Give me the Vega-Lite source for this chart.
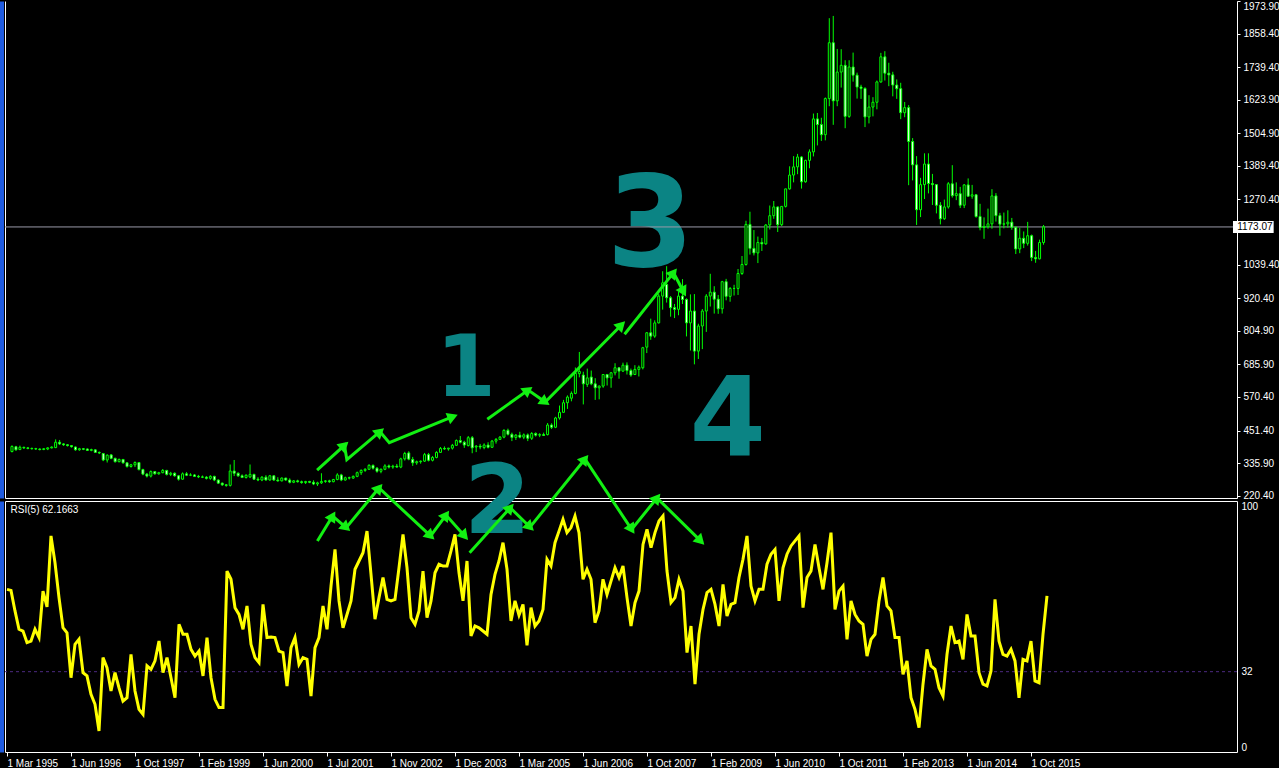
{
  "$schema": "https://vega.github.io/schema/vega-lite/v6.json",
  "background": "#000000",
  "padding": 0,
  "bounds": "flush",
  "spacing": 3,
  "config": {
    "view": {"stroke": null},
    "axis": {"grid": false, "domainColor": "#ffffff", "tickColor": "#ffffff", "labelColor": "#ffffff", "labelFont": "Liberation Sans", "labelFontSize": 10, "title": null}
  },
  "datasets": {
    "c": [
      {"i":0,"o":377,"h":399,"l":374,"c":395,"r":64.8},{"i":1,"o":394,"h":397,"l":380,"c":383,"r":64.4},{"i":2,"o":384,"h":398,"l":382,"c":392,"r":56.2},{"i":3,"o":392,"h":394,"l":386,"c":390,"r":48.9},{"i":4,"o":390,"h":392,"l":385,"c":388,"r":48.2},
      {"i":5,"o":388,"h":391,"l":384,"c":387,"r":43.6},{"i":6,"o":387,"h":390,"l":383,"c":386,"r":44.2},{"i":7,"o":386,"h":388,"l":381,"c":384,"r":48.9},{"i":8,"o":384,"h":389,"l":382,"c":387,"r":45.6},{"i":9,"o":386,"h":392,"l":382,"c":390,"r":64.1},
      {"i":10,"o":390,"h":395,"l":388,"c":393,"r":57.8},{"i":11,"o":391,"h":420,"l":389,"c":410,"r":86.1},{"i":12,"o":410,"h":418,"l":400,"c":404,"r":75.4},{"i":13,"o":404,"h":406,"l":397,"c":401,"r":61.5},{"i":14,"o":401,"h":403,"l":395,"c":398,"r":49.5},
      {"i":15,"o":398,"h":400,"l":391,"c":394,"r":47.5},{"i":16,"o":393,"h":395,"l":380,"c":383,"r":29.6},{"i":17,"o":383,"h":390,"l":380,"c":387,"r":42.9},{"i":18,"o":387,"h":389,"l":382,"c":385,"r":44.9},{"i":19,"o":386,"h":388,"l":379,"c":381,"r":31.6},
      {"i":20,"o":381,"h":387,"l":378,"c":384,"r":30.3},{"i":21,"o":383,"h":385,"l":372,"c":374,"r":23},{"i":22,"o":374,"h":377,"l":368,"c":372,"r":19},{"i":23,"o":370,"h":372,"l":343,"c":347,"r":8.4},{"i":24,"o":347,"h":367,"l":338,"c":364,"r":37.6},
      {"i":25,"o":365,"h":368,"l":350,"c":353,"r":33.6},{"i":26,"o":353,"h":355,"l":338,"c":341,"r":24.3},{"i":27,"o":341,"h":352,"l":339,"c":349,"r":31.6},{"i":28,"o":349,"h":350,"l":334,"c":337,"r":25.6},{"i":29,"o":337,"h":339,"l":320,"c":324,"r":20.3},
      {"i":30,"o":324,"h":333,"l":320,"c":330,"r":21.6},{"i":31,"o":330,"h":342,"l":322,"c":338,"r":38.9},{"i":32,"o":338,"h":340,"l":310,"c":313,"r":24.3},{"i":33,"o":313,"h":316,"l":293,"c":297,"r":17},{"i":34,"o":297,"h":301,"l":285,"c":290,"r":15},
      {"i":35,"o":290,"h":310,"l":285,"c":306,"r":34.3},{"i":36,"o":306,"h":308,"l":295,"c":298,"r":32.9},{"i":37,"o":298,"h":305,"l":295,"c":302,"r":36.3},{"i":38,"o":302,"h":315,"l":300,"c":310,"r":44.2},{"i":39,"o":310,"h":312,"l":292,"c":296,"r":31.6},
      {"i":40,"o":296,"h":305,"l":290,"c":300,"r":37.6},{"i":41,"o":300,"h":303,"l":288,"c":291,"r":29.6},{"i":42,"o":291,"h":294,"l":274,"c":279,"r":21.6},{"i":43,"o":279,"h":303,"l":277,"c":298,"r":50.9},{"i":44,"o":298,"h":304,"l":290,"c":293,"r":46.9},
      {"i":45,"o":293,"h":300,"l":290,"c":294,"r":46.9},{"i":46,"o":294,"h":297,"l":287,"c":289,"r":40.9},{"i":47,"o":289,"h":294,"l":283,"c":287,"r":38.2},{"i":48,"o":287,"h":292,"l":283,"c":286,"r":40.2},{"i":49,"o":286,"h":290,"l":278,"c":282,"r":30.3},
      {"i":50,"o":282,"h":293,"l":277,"c":289,"r":45.6},{"i":51,"o":289,"h":291,"l":272,"c":276,"r":29.6},{"i":52,"o":276,"h":278,"l":262,"c":265,"r":21},{"i":53,"o":265,"h":267,"l":255,"c":259,"r":17.7},{"i":54,"o":259,"h":262,"l":252,"c":257,"r":17.7},
      {"i":55,"o":257,"h":331,"l":253,"c":308,"r":72.1},{"i":56,"o":308,"h":347,"l":290,"c":300,"r":68.8},{"i":57,"o":300,"h":303,"l":287,"c":291,"r":57.5},{"i":58,"o":291,"h":296,"l":283,"c":285,"r":54.8},{"i":59,"o":285,"h":296,"l":281,"c":293,"r":48.9},
      {"i":60,"o":287,"h":331,"l":283,"c":296,"r":58.2},{"i":61,"o":296,"h":298,"l":276,"c":279,"r":42.9},{"i":62,"o":279,"h":286,"l":272,"c":276,"r":37.6},{"i":63,"o":276,"h":290,"l":272,"c":286,"r":35.6},{"i":64,"o":286,"h":293,"l":274,"c":276,"r":58.8},
      {"i":65,"o":276,"h":294,"l":274,"c":291,"r":45.6},{"i":66,"o":291,"h":292,"l":273,"c":276,"r":45.8},{"i":67,"o":276,"h":286,"l":270,"c":273,"r":45.6},{"i":68,"o":273,"h":285,"l":271,"c":283,"r":40.2},{"i":69,"o":283,"h":284,"l":273,"c":276,"r":39.6},
      {"i":70,"o":276,"h":282,"l":264,"c":268,"r":26.3},{"i":71,"o":268,"h":276,"l":265,"c":273,"r":41.6},{"i":72,"o":273,"h":277,"l":267,"c":270,"r":45.6},{"i":73,"o":270,"h":274,"l":263,"c":267,"r":34.9},{"i":74,"o":267,"h":273,"l":262,"c":271,"r":37.6},
      {"i":75,"o":271,"h":273,"l":265,"c":268,"r":36.9},{"i":76,"o":268,"h":275,"l":258,"c":262,"r":22.3},{"i":77,"o":262,"h":270,"l":255,"c":266,"r":41.6},{"i":78,"o":266,"h":300,"l":262,"c":271,"r":45.6},{"i":79,"o":271,"h":276,"l":266,"c":273,"r":58.2},
      {"i":80,"o":273,"h":277,"l":266,"c":270,"r":48.9},{"i":81,"o":270,"h":280,"l":268,"c":278,"r":66.1},{"i":82,"o":278,"h":300,"l":275,"c":294,"r":80.7},{"i":83,"o":294,"h":298,"l":272,"c":276,"r":60.2},{"i":84,"o":276,"h":288,"l":274,"c":284,"r":49.5},
      {"i":85,"o":284,"h":288,"l":278,"c":283,"r":54.8},{"i":86,"o":283,"h":292,"l":280,"c":289,"r":60.2},{"i":87,"o":289,"h":306,"l":286,"c":302,"r":72.8},{"i":88,"o":302,"h":314,"l":294,"c":310,"r":76.1},{"i":89,"o":310,"h":318,"l":305,"c":314,"r":79.4},
      {"i":90,"o":314,"h":332,"l":312,"c":328,"r":88},{"i":91,"o":328,"h":331,"l":313,"c":318,"r":70.8},{"i":92,"o":318,"h":322,"l":302,"c":307,"r":52.9},{"i":93,"o":307,"h":317,"l":300,"c":314,"r":61.5},{"i":94,"o":314,"h":332,"l":311,"c":326,"r":69.5},
      {"i":95,"o":326,"h":331,"l":317,"c":322,"r":60.8},{"i":96,"o":322,"h":330,"l":316,"c":325,"r":60.2},{"i":97,"o":325,"h":333,"l":320,"c":322,"r":60.8},{"i":98,"o":322,"h":355,"l":318,"c":351,"r":73.4},{"i":99,"o":351,"h":376,"l":345,"c":370,"r":86.7},
      {"i":100,"o":372,"h":378,"l":346,"c":350,"r":73.4},{"i":101,"o":349,"h":358,"l":326,"c":337,"r":53.5},{"i":102,"o":337,"h":345,"l":330,"c":341,"r":50.9},{"i":103,"o":341,"h":345,"l":334,"c":343,"r":56.2},{"i":104,"o":343,"h":372,"l":340,"c":366,"r":72.1},
      {"i":105,"o":366,"h":372,"l":342,"c":346,"r":53.5},{"i":106,"o":346,"h":361,"l":342,"c":356,"r":60.2},{"i":107,"o":356,"h":378,"l":353,"c":374,"r":71.4},{"i":108,"o":374,"h":393,"l":372,"c":388,"r":74.8},{"i":109,"o":388,"h":395,"l":383,"c":386,"r":74.1},
      {"i":110,"o":386,"h":390,"l":380,"c":389,"r":74.1},{"i":111,"o":389,"h":404,"l":384,"c":399,"r":80.1},{"i":112,"o":399,"h":420,"l":398,"c":416,"r":86.7},{"i":113,"o":416,"h":432,"l":406,"c":410,"r":71.4},{"i":114,"o":410,"h":415,"l":390,"c":400,"r":60.2},
      {"i":115,"o":398,"h":432,"l":395,"c":426,"r":76.1},{"i":116,"o":426,"h":432,"l":371,"c":390,"r":46.2},{"i":117,"o":393,"h":400,"l":375,"c":396,"r":50.2},{"i":118,"o":396,"h":404,"l":385,"c":393,"r":49.5},{"i":119,"o":391,"h":406,"l":385,"c":400,"r":48.2},
      {"i":120,"o":400,"h":410,"l":388,"c":392,"r":46.9},{"i":121,"o":392,"h":418,"l":390,"c":414,"r":62.8},{"i":122,"o":414,"h":425,"l":405,"c":420,"r":70.8},{"i":123,"o":420,"h":432,"l":418,"c":428,"r":76.1},{"i":124,"o":428,"h":456,"l":424,"c":452,"r":83.4},
      {"i":125,"o":452,"h":458,"l":434,"c":438,"r":72.8},{"i":126,"o":438,"h":444,"l":414,"c":427,"r":52.2},{"i":127,"o":427,"h":439,"l":418,"c":435,"r":60.2},{"i":128,"o":435,"h":447,"l":424,"c":428,"r":54.5},{"i":129,"o":428,"h":441,"l":421,"c":436,"r":58.8},
      {"i":130,"o":436,"h":441,"l":414,"c":424,"r":42.5},{"i":131,"o":424,"h":446,"l":418,"c":441,"r":57.5},{"i":132,"o":441,"h":445,"l":430,"c":435,"r":50.2},{"i":133,"o":435,"h":442,"l":428,"c":437,"r":52.2},{"i":134,"o":437,"h":444,"l":432,"c":434,"r":56.8},
      {"i":135,"o":437,"h":478,"l":434,"c":471,"r":76.8},{"i":136,"o":471,"h":477,"l":457,"c":463,"r":74.1},{"i":137,"o":463,"h":500,"l":460,"c":496,"r":83.4},{"i":138,"o":496,"h":540,"l":490,"c":516,"r":88},{"i":139,"o":516,"h":560,"l":515,"c":550,"r":92.7},
      {"i":140,"o":550,"h":576,"l":528,"c":570,"r":87.4},{"i":141,"o":566,"h":590,"l":555,"c":583,"r":89.4},{"i":142,"o":583,"h":675,"l":580,"c":654,"r":94},{"i":143,"o":653,"h":730,"l":640,"c":661,"r":87.4},{"i":144,"o":648,"h":660,"l":544,"c":617,"r":68.8},
      {"i":145,"o":615,"h":671,"l":606,"c":638,"r":72.8},{"i":146,"o":641,"h":664,"l":612,"c":617,"r":68.8},{"i":147,"o":617,"h":637,"l":560,"c":603,"r":51.5},{"i":148,"o":603,"h":611,"l":562,"c":609,"r":56.2},{"i":149,"o":609,"h":651,"l":603,"c":650,"r":68.8},
      {"i":150,"o":650,"h":652,"l":611,"c":638,"r":62.8},{"i":151,"o":638,"h":659,"l":603,"c":656,"r":68.1},{"i":152,"o":656,"h":690,"l":647,"c":674,"r":73.4},{"i":153,"o":674,"h":676,"l":635,"c":662,"r":69.5},{"i":154,"o":662,"h":692,"l":660,"c":683,"r":74.1},
      {"i":155,"o":683,"h":693,"l":650,"c":664,"r":61.5},{"i":156,"o":664,"h":671,"l":642,"c":648,"r":50.2},{"i":157,"o":650,"h":683,"l":648,"c":668,"r":59.5},{"i":158,"o":668,"h":682,"l":643,"c":676,"r":64.1},{"i":159,"o":674,"h":748,"l":668,"c":745,"r":82.7},
      {"i":160,"o":747,"h":800,"l":726,"c":798,"r":88.7},{"i":161,"o":798,"h":848,"l":773,"c":786,"r":81.4},{"i":162,"o":786,"h":842,"l":780,"c":833,"r":87.4},{"i":163,"o":833,"h":935,"l":831,"c":928,"r":92},{"i":164,"o":928,"h":1016,"l":880,"c":975,"r":94},
      {"i":165,"o":969,"h":1034,"l":905,"c":922,"r":72.1},{"i":166,"o":922,"h":928,"l":855,"c":887,"r":59.5},{"i":167,"o":887,"h":900,"l":850,"c":881,"r":61.5},{"i":168,"o":881,"h":944,"l":860,"c":928,"r":68.8},{"i":169,"o":928,"h":988,"l":900,"c":916,"r":64.1},
      {"i":170,"o":916,"h":920,"l":785,"c":833,"r":39.6},{"i":171,"o":833,"h":934,"l":735,"c":875,"r":50.2},{"i":172,"o":875,"h":935,"l":686,"c":733,"r":27},{"i":173,"o":733,"h":830,"l":705,"c":822,"r":46.9},{"i":174,"o":822,"h":882,"l":740,"c":875,"r":56.8},
      {"i":175,"o":875,"h":935,"l":801,"c":928,"r":63.5},{"i":176,"o":928,"h":1007,"l":891,"c":942,"r":64.8},{"i":177,"o":942,"h":963,"l":866,"c":917,"r":58.8},{"i":178,"o":917,"h":932,"l":865,"c":883,"r":50.2},{"i":179,"o":883,"h":982,"l":866,"c":979,"r":66.8},
      {"i":180,"o":979,"h":989,"l":913,"c":927,"r":54.2},{"i":181,"o":927,"h":960,"l":908,"c":955,"r":58.8},{"i":182,"o":955,"h":968,"l":930,"c":955,"r":59.5},{"i":183,"o":955,"h":1024,"l":932,"c":1008,"r":69.5},{"i":184,"o":1008,"h":1070,"l":1003,"c":1040,"r":76.8},
      {"i":185,"o":1040,"h":1195,"l":1036,"c":1182,"r":86.1},{"i":186,"o":1182,"h":1227,"l":1075,"c":1097,"r":66.1},{"i":187,"o":1097,"h":1162,"l":1072,"c":1081,"r":60.2},{"i":188,"o":1081,"h":1139,"l":1045,"c":1118,"r":64.8},{"i":189,"o":1118,"h":1134,"l":1088,"c":1113,"r":64.8},
      {"i":190,"o":1113,"h":1183,"l":1110,"c":1180,"r":74.8},{"i":191,"o":1180,"h":1249,"l":1164,"c":1213,"r":78.8},{"i":192,"o":1213,"h":1265,"l":1202,"c":1244,"r":80.7},{"i":193,"o":1244,"h":1245,"l":1155,"c":1181,"r":60.2},{"i":194,"o":1181,"h":1246,"l":1176,"c":1246,"r":73.4},
      {"i":195,"o":1246,"h":1308,"l":1242,"c":1308,"r":78.8},{"i":196,"o":1308,"h":1388,"l":1305,"c":1357,"r":82.1},{"i":197,"o":1357,"h":1424,"l":1331,"c":1386,"r":84.1},{"i":198,"o":1386,"h":1432,"l":1360,"c":1421,"r":86.1},{"i":199,"o":1421,"h":1424,"l":1309,"c":1333,"r":57.5},
      {"i":200,"o":1333,"h":1411,"l":1330,"c":1409,"r":69.5},{"i":201,"o":1409,"h":1448,"l":1381,"c":1439,"r":72.1},{"i":202,"o":1439,"h":1575,"l":1423,"c":1556,"r":82.7},{"i":203,"o":1556,"h":1577,"l":1462,"c":1536,"r":73.4},{"i":204,"o":1536,"h":1560,"l":1478,"c":1500,"r":64.8},
      {"i":205,"o":1500,"h":1632,"l":1480,"c":1628,"r":75.4},{"i":206,"o":1628,"h":1913,"l":1601,"c":1826,"r":87.4},{"i":207,"o":1826,"h":1921,"l":1535,"c":1620,"r":56.8},{"i":208,"o":1620,"h":1804,"l":1601,"c":1722,"r":64.1},{"i":209,"o":1722,"h":1803,"l":1667,"c":1746,"r":66.1},
      {"i":210,"o":1746,"h":1764,"l":1523,"c":1565,"r":44.9},{"i":211,"o":1565,"h":1764,"l":1560,"c":1740,"r":60.2},{"i":212,"o":1740,"h":1791,"l":1688,"c":1711,"r":54.8},{"i":213,"o":1711,"h":1720,"l":1628,"c":1669,"r":52.2},{"i":214,"o":1669,"h":1677,"l":1627,"c":1664,"r":50.9},
      {"i":215,"o":1664,"h":1668,"l":1527,"c":1563,"r":38.2},{"i":216,"o":1563,"h":1640,"l":1540,"c":1598,"r":44.9},{"i":217,"o":1598,"h":1633,"l":1565,"c":1615,"r":46.9},{"i":218,"o":1615,"h":1692,"l":1590,"c":1687,"r":60.2},{"i":219,"o":1687,"h":1790,"l":1684,"c":1776,"r":69.5},
      {"i":220,"o":1776,"h":1796,"l":1692,"c":1718,"r":58.2},{"i":221,"o":1718,"h":1755,"l":1672,"c":1712,"r":56.2},{"i":222,"o":1712,"h":1723,"l":1636,"c":1676,"r":45.6},{"i":223,"o":1676,"h":1696,"l":1627,"c":1663,"r":45.6},{"i":224,"o":1663,"h":1684,"l":1555,"c":1578,"r":30.9},
      {"i":225,"o":1578,"h":1616,"l":1562,"c":1596,"r":36.3},{"i":226,"o":1596,"h":1605,"l":1321,"c":1476,"r":21.6},{"i":227,"o":1476,"h":1488,"l":1338,"c":1393,"r":17},{"i":228,"o":1393,"h":1424,"l":1180,"c":1234,"r":9.7},{"i":229,"o":1234,"h":1347,"l":1208,"c":1323,"r":27},
      {"i":230,"o":1323,"h":1434,"l":1272,"c":1396,"r":40.9},{"i":231,"o":1396,"h":1434,"l":1292,"c":1327,"r":34.3},{"i":232,"o":1327,"h":1361,"l":1251,"c":1323,"r":32.9},{"i":233,"o":1323,"h":1324,"l":1221,"c":1250,"r":25.6},{"i":234,"o":1250,"h":1261,"l":1182,"c":1202,"r":22.3},
      {"i":235,"o":1202,"h":1270,"l":1198,"c":1244,"r":38.9},{"i":236,"o":1244,"h":1332,"l":1238,"c":1326,"r":50.2},{"i":237,"o":1326,"h":1392,"l":1277,"c":1284,"r":43.6},{"i":238,"o":1284,"h":1331,"l":1268,"c":1291,"r":44.2},{"i":239,"o":1291,"h":1315,"l":1240,"c":1250,"r":36.9},
      {"i":240,"o":1250,"h":1325,"l":1240,"c":1322,"r":54.8},{"i":241,"o":1322,"h":1345,"l":1280,"c":1282,"r":46.2},{"i":242,"o":1282,"h":1322,"l":1273,"c":1287,"r":46.2},{"i":243,"o":1287,"h":1290,"l":1206,"c":1210,"r":31.6},{"i":244,"o":1210,"h":1255,"l":1161,"c":1171,"r":27},
      {"i":245,"o":1171,"h":1207,"l":1131,"c":1175,"r":26.3},{"i":246,"o":1175,"h":1238,"l":1167,"c":1184,"r":32.3},{"i":247,"o":1184,"h":1307,"l":1167,"c":1283,"r":60.8},{"i":248,"o":1283,"h":1293,"l":1192,"c":1213,"r":44.2},{"i":249,"o":1213,"h":1223,"l":1142,"c":1183,"r":38.9},
      {"i":250,"o":1183,"h":1224,"l":1168,"c":1184,"r":38.2},{"i":251,"o":1184,"h":1232,"l":1170,"c":1190,"r":40.9},{"i":252,"o":1190,"h":1205,"l":1163,"c":1172,"r":36.3},{"i":253,"o":1172,"h":1174,"l":1077,"c":1095,"r":21.6},{"i":254,"o":1095,"h":1170,"l":1080,"c":1133,"r":36.9},
      {"i":255,"o":1133,"h":1157,"l":1098,"c":1115,"r":36.3},{"i":256,"o":1115,"h":1191,"l":1107,"c":1142,"r":44.2},{"i":257,"o":1142,"h":1146,"l":1052,"c":1065,"r":28.3},{"i":258,"o":1065,"h":1088,"l":1046,"c":1060,"r":27.6},{"i":259,"o":1060,"h":1128,"l":1058,"c":1118,"r":46.9},
      {"i":260,"o":1118,"h":1180,"l":1110,"c":1173.07,"r":62.2}
    ],
    "a1": [
      {"g":1,"k":1,"i":76.9,"p":311.5},{"g":1,"k":2,"i":83.8,"p":399.1},{"g":1,"k":3,"i":84.4,"p":348.0},{"g":1,"k":4,"i":92.75,"p":447.3},{"g":1,"k":5,"i":95.1,"p":408.3},{"g":1,"k":6,"i":111.1,"p":500.5},
      {"g":2,"k":1,"i":119.8,"p":491.2},{"g":2,"k":2,"i":130.1,"p":595.1},{"g":2,"k":3,"i":134.4,"p":552.5},{"g":2,"k":4,"i":153.6,"p":825.5},
      {"g":3,"k":1,"i":154.4,"p":792.5},{"g":3,"k":2,"i":166.75,"p":1010.9},{"g":3,"k":3,"i":169.25,"p":943.5}
    ],
    "h1": [
      {"i":83.8,"p":399.1,"a":48},{"i":92.75,"p":447.3,"a":50},{"i":111.1,"p":500.5,"a":68},{"i":130.1,"p":595.1,"a":54},{"i":134.4,"p":552.5,"a":125},{"i":153.6,"p":825.5,"a":45},{"i":166.75,"p":1010.9,"a":39},{"i":169.25,"p":943.5,"a":152}
    ],
    "a2": [
      {"g":4,"k":1,"i":77.6,"r":84.1},{"g":4,"k":2,"i":81.4,"r":94.0},{"g":4,"k":3,"i":84.8,"r":89.4},{"g":4,"k":4,"i":93.0,"r":105.2},{"g":4,"k":5,"i":105.9,"r":86.1},{"g":4,"k":6,"i":109.75,"r":94.4},{"g":4,"k":7,"i":114.4,"r":86.1},
      {"g":5,"k":1,"i":115.65,"r":79.4},{"g":5,"k":2,"i":125.8,"r":97.3},{"g":5,"k":3,"i":130.75,"r":89.6},{"g":5,"k":4,"i":144.5,"r":116.7},{"g":5,"k":5,"i":156.15,"r":88.7},{"g":5,"k":6,"i":162.5,"r":101.2},{"g":5,"k":7,"i":173.4,"r":84.1}
    ],
    "h2": [
      {"i":81.4,"r":94.0,"a":31},{"i":84.8,"r":89.4,"a":131},{"i":93.0,"r":105.2,"a":40},{"i":105.9,"r":86.1,"a":133},{"i":109.75,"r":94.4,"a":36},{"i":114.4,"r":86.1,"a":139},
      {"i":125.8,"r":97.3,"a":42},{"i":130.75,"r":89.6,"a":134},{"i":144.5,"r":116.7,"a":39},{"i":156.15,"r":88.7,"a":147},{"i":162.5,"r":101.2,"a":39},{"i":173.4,"r":84.1,"a":135}
    ]
  },
  "vconcat": [
    {
      "width": 1232,
      "height": 497,
      "layer": [
        {
          "data": {"values": [{"t": "1", "i": 114.4, "p": 667.7}]},
          "mark": {"type": "text", "font": "DejaVu Sans", "fontWeight": "bold", "fontSize": 86, "color": "#0b8484", "align": "center", "baseline": "middle"},
          "encoding": {
            "x": {"field": "i", "type": "quantitative", "scale": {"domain": [-0.5, 307.5], "nice": false, "zero": false}, "axis": null},
            "y": {"field": "p", "type": "quantitative", "scale": {"domain": [212.3, 1973.9], "nice": false, "zero": false}, "axis": null},
            "text": {"field": "t"}
          }
        },
        {
          "data": {"values": [{"t": "3", "i": 160.9, "p": 1169.3}]},
          "mark": {"type": "text", "font": "DejaVu Sans", "fontWeight": "bold", "fontSize": 126, "color": "#0b8484", "align": "center", "baseline": "middle"},
          "encoding": {
            "x": {"field": "i", "type": "quantitative", "scale": {"domain": [-0.5, 307.5], "nice": false, "zero": false}, "axis": null},
            "y": {"field": "p", "type": "quantitative", "scale": {"domain": [212.3, 1973.9], "nice": false, "zero": false}, "axis": null},
            "text": {"field": "t"}
          }
        },
        {
          "data": {"values": [{"t": "4", "i": 180.4, "p": 478.1}]},
          "mark": {"type": "text", "font": "DejaVu Sans", "fontWeight": "bold", "fontSize": 110, "color": "#0b8484", "align": "center", "baseline": "middle"},
          "encoding": {
            "x": {"field": "i", "type": "quantitative", "scale": {"domain": [-0.5, 307.5], "nice": false, "zero": false}, "axis": null},
            "y": {"field": "p", "type": "quantitative", "scale": {"domain": [212.3, 1973.9], "nice": false, "zero": false}, "axis": null},
            "text": {"field": "t"}
          }
        },
        {
          "data": {"values": [{"p": 1173.07}]},
          "mark": {"type": "rule", "color": "#9a9aa8", "strokeWidth": 1},
          "encoding": {
            "y": {"field": "p", "type": "quantitative", "scale": {"domain": [212.3, 1973.9], "nice": false, "zero": false},
                  "axis": {"orient": "left", "offset": 4.5, "domainColor": "#1f5be0", "domainWidth": 6, "ticks": false, "labels": false, "title": null}}
          }
        },
        {
          "data": {"name": "c"},
          "mark": {"type": "rule", "color": "#00ff00", "strokeWidth": 1},
          "encoding": {
            "x": {"field": "i", "type": "quantitative", "scale": {"domain": [-0.5, 307.5], "nice": false, "zero": false},
                  "axis": {"orient": "bottom", "ticks": false, "labels": false, "title": null}},
            "y": {"field": "l", "type": "quantitative", "scale": {"domain": [212.3, 1973.9], "nice": false, "zero": false},
                  "axis": {"orient": "right", "values": [220.4, 335.9, 451.4, 570.4, 685.9, 804.9, 920.4, 1039.4, 1270.4, 1389.4, 1504.9, 1623.9, 1739.4, 1858.4, 1973.9],
                           "format": ".2f", "tickSize": 3, "labelPadding": 3, "labelFlush": true, "labelOverlap": false, "title": null}},
            "y2": {"field": "h"}
          }
        },
        {
          "data": {"name": "c"},
          "mark": {"type": "bar", "size": 2, "stroke": "#00ff00", "strokeWidth": 1},
          "encoding": {
            "x": {"field": "i", "type": "quantitative", "scale": {"domain": [-0.5, 307.5], "nice": false, "zero": false}, "axis": null},
            "y": {"field": "o", "type": "quantitative", "scale": {"domain": [212.3, 1973.9], "nice": false, "zero": false},
                  "axis": {"orient": "left", "ticks": false, "labels": false, "title": null}},
            "y2": {"field": "c"},
            "fill": {"condition": {"test": "datum.c < datum.o", "value": "#ffffff"}, "value": "#000000"}
          }
        },
        {
          "data": {"name": "a1"},
          "mark": {"type": "line", "color": "#12f012", "strokeWidth": 3},
          "encoding": {
            "x": {"field": "i", "type": "quantitative", "scale": {"domain": [-0.5, 307.5], "nice": false, "zero": false}, "axis": null},
            "y": {"field": "p", "type": "quantitative", "scale": {"domain": [212.3, 1973.9], "nice": false, "zero": false}, "axis": null},
            "detail": {"field": "g"},
            "order": {"field": "k"}
          }
        },
        {
          "data": {"name": "h1"},
          "mark": {"type": "point", "shape": "triangle-up", "filled": true, "size": 150, "color": "#12f012", "opacity": 1},
          "encoding": {
            "x": {"field": "i", "type": "quantitative", "scale": {"domain": [-0.5, 307.5], "nice": false, "zero": false}, "axis": null},
            "y": {"field": "p", "type": "quantitative", "scale": {"domain": [212.3, 1973.9], "nice": false, "zero": false}, "axis": null},
            "angle": {"field": "a", "type": "quantitative", "scale": null}
          }
        },
        {
          "data": {"values": [{"p": 1173.07}]},
          "mark": {"type": "rect", "color": "#ffffff", "yOffset": -6, "y2Offset": 6},
          "encoding": {
            "x": {"datum": 307.75, "type": "quantitative", "scale": {"domain": [-0.5, 307.5], "nice": false, "zero": false}, "axis": null},
            "x2": {"datum": 318},
            "y": {"field": "p", "type": "quantitative", "scale": {"domain": [212.3, 1973.9], "nice": false, "zero": false}, "axis": null},
            "y2": {"field": "p"}
          }
        },
        {
          "data": {"values": [{"p": 1173.07}]},
          "mark": {"type": "text", "align": "left", "baseline": "middle", "color": "#000000", "font": "Liberation Sans", "fontSize": 10},
          "encoding": {
            "x": {"datum": 308.8, "type": "quantitative", "scale": {"domain": [-0.5, 307.5], "nice": false, "zero": false}, "axis": null},
            "y": {"field": "p", "type": "quantitative", "scale": {"domain": [212.3, 1973.9], "nice": false, "zero": false}, "axis": null},
            "text": {"field": "p", "type": "quantitative", "format": ".2f"}
          }
        }
      ],
      "resolve": {"axis": {"x": "independent", "y": "independent"}}
    },
    {
      "width": 1232,
      "height": 251,
      "layer": [
        {
          "data": {"values": [{"t": "2", "i": 122.6, "r": 98.8}]},
          "mark": {"type": "text", "font": "DejaVu Sans", "fontWeight": "bold", "fontSize": 96, "color": "#0b8484", "align": "center", "baseline": "middle"},
          "encoding": {
            "x": {"field": "i", "type": "quantitative", "scale": {"domain": [-0.5, 307.5], "nice": false, "zero": false}, "axis": null},
            "y": {"field": "r", "type": "quantitative", "scale": {"domain": [0, 100], "nice": false, "zero": false}, "axis": null},
            "text": {"field": "t"}
          }
        },
        {
          "data": {"values": [{}]},
          "mark": {"type": "rule", "color": "#4b2a80", "strokeDash": [3, 3], "strokeWidth": 1},
          "encoding": {
            "y": {"datum": 32, "type": "quantitative", "scale": {"domain": [0, 100], "nice": false, "zero": false},
                  "axis": {"orient": "right", "values": [0, 32, 100], "ticks": false, "labelPadding": 4, "labelFlush": true, "title": null}}
          }
        },
        {
          "data": {"name": "c"},
          "mark": {"type": "line", "color": "#ffff00", "strokeWidth": 3},
          "encoding": {
            "x": {"field": "i", "type": "quantitative", "scale": {"domain": [-0.5, 307.5], "nice": false, "zero": false},
                  "axis": {"orient": "bottom", "values": [0, 16, 32, 48, 64, 80, 96, 112, 128, 144, 160, 176, 192, 208, 224, 240, 256],
                           "labelExpr": "['1 Mar 1995','1 Jun 1996','1 Oct 1997','1 Feb 1999','1 Jun 2000','1 Jul 2001','1 Nov 2002','1 Dec 2003','1 Mar 2005','1 Jun 2006','1 Oct 2007','1 Feb 2009','1 Jun 2010','1 Oct 2011','1 Feb 2013','1 Jun 2014','1 Oct 2015'][round(datum.value/16)]",
                           "labelAlign": "left", "tickSize": 4, "labelPadding": 2, "labelOverlap": false, "labelBound": false, "title": null}},
            "y": {"field": "r", "type": "quantitative", "scale": {"domain": [0, 100], "nice": false, "zero": false},
                  "axis": {"orient": "left", "ticks": false, "labels": false, "title": null}}
          }
        },
        {
          "data": {"values": [{"t": "RSI(5) 62.1663"}]},
          "mark": {"type": "text", "align": "left", "baseline": "middle", "color": "#ffffff", "font": "Liberation Sans", "fontSize": 10},
          "encoding": {
            "x": {"datum": 0.9, "type": "quantitative", "scale": {"domain": [-0.5, 307.5], "nice": false, "zero": false},
                  "axis": {"orient": "top", "ticks": false, "labels": false, "title": null}},
            "y": {"datum": 96.6, "type": "quantitative", "scale": {"domain": [0, 100], "nice": false, "zero": false},
                  "axis": {"orient": "left", "offset": 4.5, "domainColor": "#1f5be0", "domainWidth": 6, "ticks": false, "labels": false, "title": null}},
            "text": {"field": "t"}
          }
        },
        {
          "data": {"name": "a2"},
          "mark": {"type": "line", "color": "#12f012", "strokeWidth": 3},
          "encoding": {
            "x": {"field": "i", "type": "quantitative", "scale": {"domain": [-0.5, 307.5], "nice": false, "zero": false}, "axis": null},
            "y": {"field": "r", "type": "quantitative", "scale": {"domain": [0, 100], "nice": false, "zero": false}, "axis": null},
            "detail": {"field": "g"},
            "order": {"field": "k"}
          }
        },
        {
          "data": {"name": "h2"},
          "mark": {"type": "point", "shape": "triangle-up", "filled": true, "size": 150, "color": "#12f012", "opacity": 1},
          "encoding": {
            "x": {"field": "i", "type": "quantitative", "scale": {"domain": [-0.5, 307.5], "nice": false, "zero": false}, "axis": null},
            "y": {"field": "r", "type": "quantitative", "scale": {"domain": [0, 100], "nice": false, "zero": false}, "axis": null},
            "angle": {"field": "a", "type": "quantitative", "scale": null}
          }
        }
      ],
      "resolve": {"axis": {"x": "independent", "y": "independent"}}
    }
  ]
}
